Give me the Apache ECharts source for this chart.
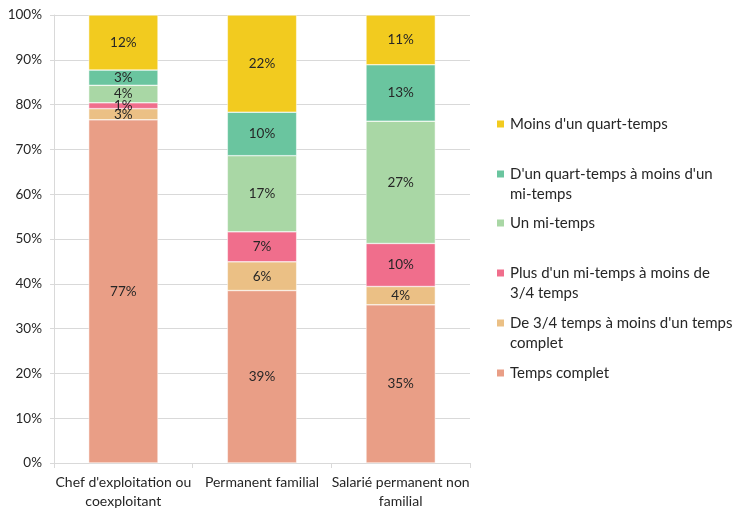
<!DOCTYPE html>
<html>
<head>
<meta charset="utf-8">
<script src="https://cdn.jsdelivr.net/npm/echarts@6/dist/echarts.min.js"></script>
<style>
  html, body { margin: 0; padding: 0; background: #fff; }
  #chart { width: 739px; height: 511px; }
</style>
</head>
<body>
<div id="chart"></div>
<script>
// categories (x axis)
const categories = ["Chef d'exploitation ou\ncoexploitant", "Permanent familial", "Salarié permanent non\nfamilial"];

// values in % (stacked from bottom to top)
const tempsComplet = [76.6, 38.5, 35.3];
const troisQuarts = [2.5, 6.4, 4.1];
const plusMiTemps = [1.3, 6.7, 9.6];
const miTemps = [3.9, 17.0, 27.3];
const quartTemps = [3.4, 9.7, 12.6];
const moinsQuart = [12.3, 21.7, 11.1];

const seriesNames = [
  "Temps complet",
  "De 3/4 temps à moins d'un temps complet",
  "Plus d'un mi-temps à moins de 3/4 temps",
  "Un mi-temps",
  "D'un quart-temps à moins d'un mi-temps",
  "Moins d'un quart-temps"
];
const legendLabels = [
  "Temps complet",
  "De 3/4 temps à moins d'un temps\ncomplet",
  "Plus d'un mi-temps à moins de\n3/4 temps",
  "Un mi-temps",
  "D'un quart-temps à moins d'un\nmi-temps",
  "Moins d'un quart-temps"
];
const seriesData = [tempsComplet, troisQuarts, plusMiTemps, miTemps, quartTemps, moinsQuart];
const colors = ["#E99E86", "#EBC085", "#F06E8C", "#A9D7A5", "#6AC59F", "#F2CB1F"];

const yTicks = [0, 10, 20, 30, 40, 50, 60, 70, 80, 90, 100];

const font = "Lato, 'Liberation Sans', sans-serif";
const textColor = "#262626";

// legend: one block per item, top to bottom
const legendCenters = [373, 323, 273, 223, 174, 124]; // same index as seriesNames
const legends = seriesNames.map((name, i) => {
  const twoLines = legendLabels[i].indexOf("\n") >= 0;
  // an empty first line keeps the icon level with the first text line
  const text = twoLines ? "\n" + legendLabels[i] : legendLabels[i];
  return {
    data: [name],
    left: 495,
    top: twoLines ? legendCenters[i] - 30 : legendCenters[i] - 10,
    orient: "vertical",
    padding: 0,
    itemWidth: 9,
    itemHeight: 9,
    icon: "rect",
    selectedMode: false,
    formatter: () => text,
    textStyle: {
      fontFamily: font,
      fontSize: 15,
      color: textColor,
      lineHeight: 20
    }
  };
});

const initChart = () => {
  const myChart = echarts.init(document.getElementById("chart"));
  myChart.setOption({
    animation: false,
    textStyle: { fontFamily: font },
    grid: { left: 54, right: 269, top: 15, bottom: 48 },
    legend: legends,
    xAxis: {
      type: "category",
      data: categories,
      axisLine: { lineStyle: { color: "#d9d9d9" } },
      axisTick: { show: true, length: 5, lineStyle: { color: "#d9d9d9" } },
      axisLabel: { interval: 0, color: textColor, fontSize: 14, fontFamily: font, lineHeight: 19, margin: 10 }
    },
    yAxis: {
      type: "value",
      min: yTicks[0],
      max: yTicks[yTicks.length - 1],
      interval: 10,
      axisLine: { show: true, lineStyle: { color: "#d9d9d9" } },
      axisTick: { show: true, length: 4, lineStyle: { color: "#d9d9d9" } },
      splitLine: { lineStyle: { color: "#d9d9d9" } },
      axisLabel: { color: textColor, fontSize: 13.5, fontFamily: font, formatter: "{value}%", margin: 12 }
    },
    series: seriesNames.map((name, i) => ({
      name: name,
      type: "bar",
      stack: "total",
      barWidth: "50%",
      data: seriesData[i],
      itemStyle: { color: colors[i], borderColor: "#ffffff", borderWidth: 0.5 },
      label: {
        show: true,
        position: "inside",
        color: textColor,
        fontSize: 13.5,
        fontFamily: font,
        formatter: p => Math.round(p.value) + "%"
      }
    }))
  });
};

window.addEventListener("load", initChart);
</script>
</body>
</html>
